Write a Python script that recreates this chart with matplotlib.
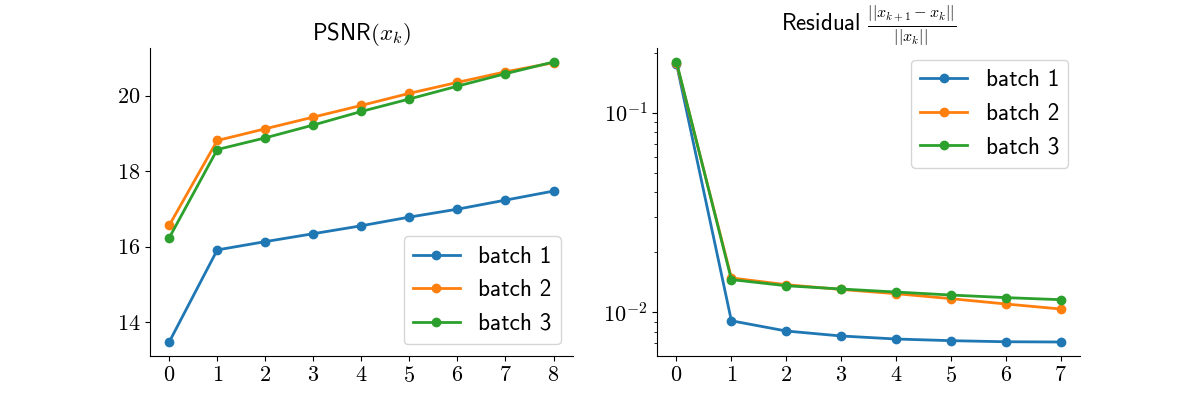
import numpy as np
import matplotlib
matplotlib.use('Agg')
import matplotlib.pyplot as plt

plt.rcParams['font.family'] = 'cmr10'
plt.rcParams['mathtext.fontset'] = 'cm'
plt.rcParams['axes.formatter.use_mathtext'] = True
plt.rcParams['axes.unicode_minus'] = False
plt.rcParams['font.size'] = 16

labels = ['batch 1', 'batch 2', 'batch 3']

psnr_iter = np.arange(9)
psnr_b1 = [13.47, 15.91, 16.13, 16.34, 16.55, 16.78, 16.99, 17.23, 17.47]
psnr_b2 = [16.56, 18.81, 19.12, 19.43, 19.74, 20.06, 20.35, 20.63, 20.87]
psnr_b3 = [16.23, 18.57, 18.88, 19.22, 19.58, 19.91, 20.25, 20.58, 20.89]

res_iter = np.arange(8)
res_b1 = [0.176, 0.00908, 0.00807, 0.00762, 0.00736, 0.00722, 0.00713, 0.00711]
res_b2 = [0.177, 0.01488, 0.01377, 0.01303, 0.01241, 0.01172, 0.01102, 0.0104]
res_b3 = [0.1795, 0.0146, 0.0136, 0.0131, 0.01265, 0.01222, 0.01186, 0.01158]

fig, (ax1, ax2) = plt.subplots(1, 2, figsize=(12, 4), dpi=100)

for ys, lab in zip([psnr_b1, psnr_b2, psnr_b3], labels):
    ax1.plot(psnr_iter, ys, marker='o', lw=2, label=lab)
ax1.set_title(r'PSNR$(x_k)$', family='cmss10', fontsize=16.5)
ax1.set_xticks(psnr_iter)
ax1.legend(loc='lower right', prop={'family': 'cmss10', 'size': 16.8})

for ys, lab in zip([res_b1, res_b2, res_b3], labels):
    ax2.plot(res_iter, ys, marker='o', lw=2, label=lab)
ax2.set_yscale('log')
ax2.set_title(r'Residual $\frac{||x_{k+1}-x_k||}{||x_k||}$', family='cmss10', fontsize=16.5)
ax2.set_xticks(res_iter)
ax2.legend(loc='upper right', prop={'family': 'cmss10', 'size': 16.8})

for ax in (ax1, ax2):
    ax.spines['top'].set_visible(False)
    ax.spines['right'].set_visible(False)

fig.savefig('out.png', dpi=100)
